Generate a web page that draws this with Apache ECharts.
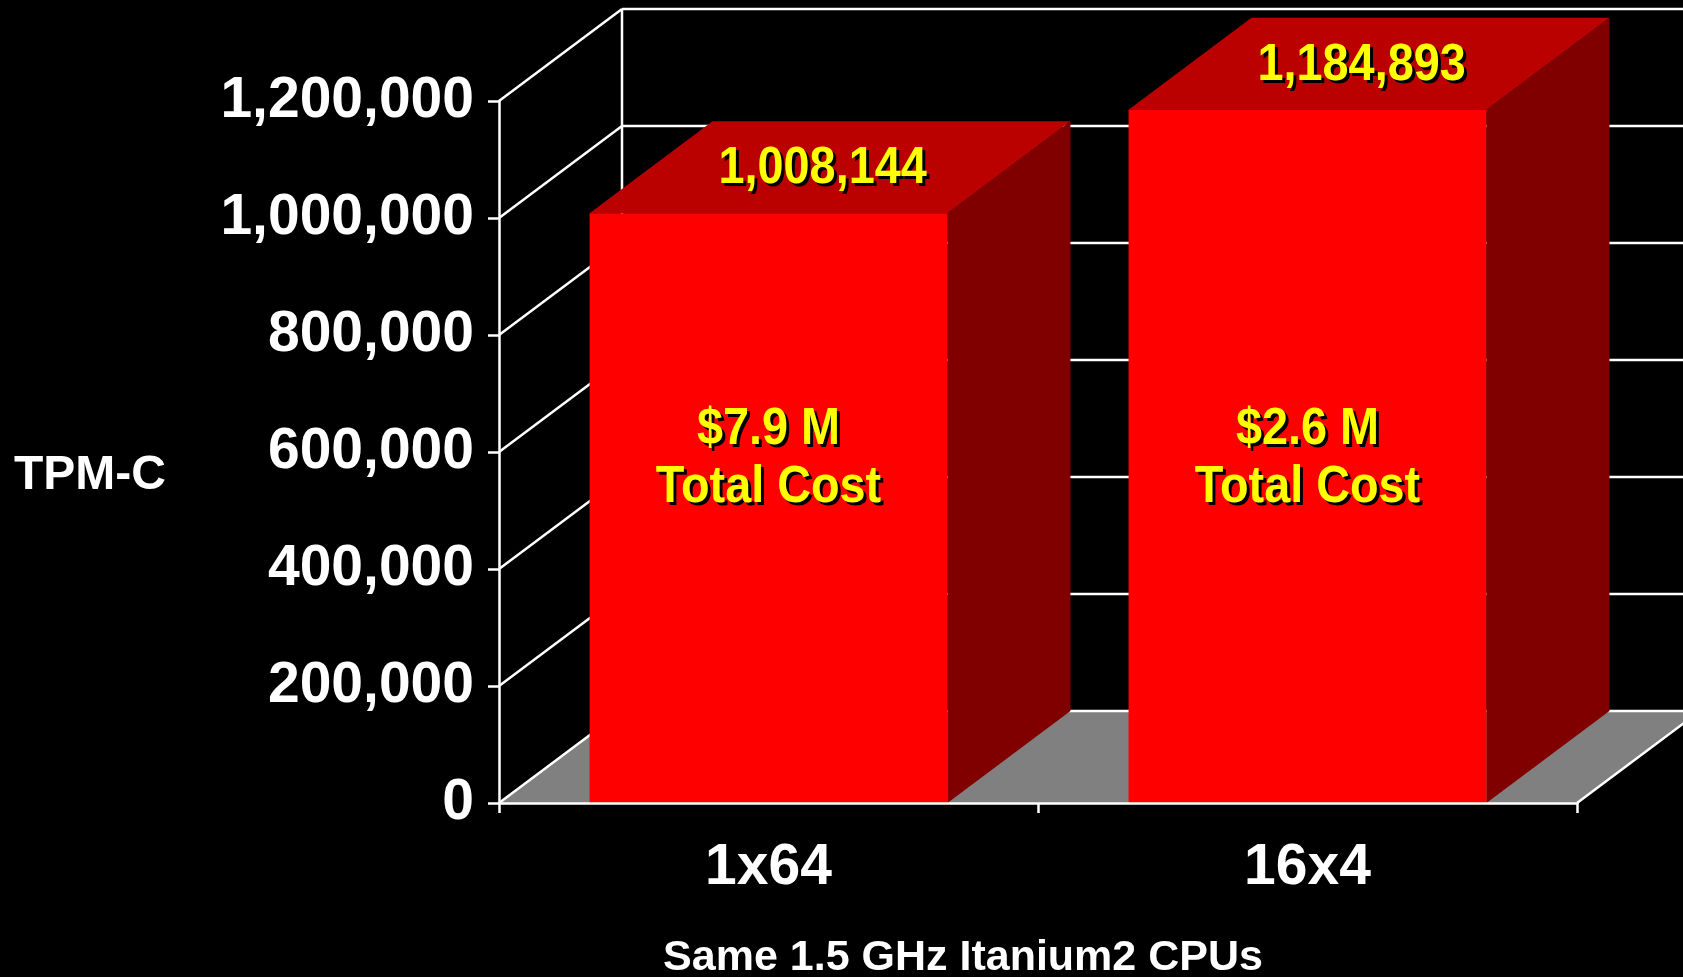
<!DOCTYPE html>
<html>
<head>
<meta charset="utf-8">
<script src="https://cdn.jsdelivr.net/npm/echarts@6/dist/echarts.min.js"></script>
<style>
html, body { margin: 0; padding: 0; background: #000; }
#main { width: 1683px; height: 977px; }
</style>
</head>
<body>
<div id="main"></div>
<script>
// data
var categories = ['1x64', '16x4'];
var tpmc = [1008144, 1184893];
var costLabels = ['$7.9 M\nTotal Cost', '$2.6 M\nTotal Cost'];
var yTicks = [0, 200000, 400000, 600000, 800000, 1000000, 1200000];

// fake 3d depth, in pixels
var DX = 123, DY = -92;
var FONT = '"Liberation Sans", Arial, sans-serif';
var COST_AT = 588000; // where the cost text sits on the value axis

var myChart = echarts.init(document.getElementById('main'));

// yellow text with a hard black drop shadow, a bit condensed like the slide
function shadowText(x, y, text, lineHeight) {
    var base = {
        font: 'bold 52px ' + FONT,
        lineHeight: lineHeight,
        align: 'center',
        verticalAlign: 'middle'
    };
    return [
        {
            type: 'text', x: x + 3, y: y + 3, scaleX: 0.9,
            style: echarts.util.extend({ text: text, fill: '#000' }, base)
        },
        {
            type: 'text', x: x, y: y, scaleX: 0.9,
            style: echarts.util.extend({ text: text, fill: '#ffff00' }, base)
        }
    ];
}

function renderWalls(params, api) {
    var cs = params.coordSys;
    var v = api.value(0);
    var y = api.coord([0, v])[1];
    var left = cs.x, right = cs.x + cs.width;
    var line = { stroke: '#fff', lineWidth: 2.5 };
    var children = [];
    if (v === 0) {
        children.push({
            type: 'polygon',
            shape: { points: [[left, y], [right, y], [right + DX, y + DY], [left + DX, y + DY]] },
            style: { fill: '#808080' }
        });
        children.push({
            type: 'line',
            shape: { x1: right, y1: y, x2: right + DX, y2: y + DY },
            style: line
        });
        children.push({
            type: 'line',
            shape: { x1: left + DX, y1: y + DY, x2: left + DX, y2: cs.y + DY },
            style: line
        });
    }
    children.push({
        type: 'line',
        shape: { x1: left, y1: y, x2: left + DX, y2: y + DY },
        style: line
    });
    children.push({
        type: 'line',
        shape: { x1: left + DX, y1: y + DY, x2: right + DX + 200, y2: y + DY },
        style: line
    });
    return { type: 'group', children: children };
}

function renderBar(params, api) {
    var i = api.value(0);
    var v = api.value(1);
    var top = api.coord([i, v]);
    var base = api.coord([i, 0]);
    var w = api.size([1, 0])[0] * 0.664;
    var x0 = top[0] - w / 2, x1 = top[0] + w / 2;
    var ty = top[1], by = base[1];
    var costY = api.coord([i, COST_AT])[1];
    var children = [
        {
            type: 'polygon',
            shape: { points: [[x1, ty], [x1 + DX, ty + DY], [x1 + DX, by + DY], [x1, by]] },
            style: { fill: '#800000' }
        },
        {
            type: 'polygon',
            shape: { points: [[x0, ty], [x1, ty], [x1 + DX, ty + DY], [x0 + DX, ty + DY]] },
            style: { fill: '#bb0000' }
        },
        {
            type: 'rect',
            shape: { x: x0, y: ty, width: w, height: by - ty },
            style: { fill: '#ff0000' }
        }
    ];
    children = children.concat(
        shadowText(top[0] + DX * 0.44, ty + DY * 0.48, echarts.format.addCommas(v), 52),
        shadowText(top[0], costY, costLabels[i], 58)
    );
    return { type: 'group', children: children };
}

var barData = [];
for (var i = 0; i < categories.length; i++) {
    barData.push([i, tpmc[i]]);
}

option = {
    backgroundColor: '#000',
    animation: false,
    grid: {
        left: 499,
        top: 101,
        width: 1078,
        height: 702
    },
    xAxis: {
        type: 'category',
        data: categories,
        z: 5,
        axisLine: { lineStyle: { color: '#fff', width: 2.5 } },
        axisTick: { show: true, length: 10, lineStyle: { color: '#fff', width: 2.5 } },
        axisLabel: {
            color: '#fff',
            fontFamily: FONT,
            fontWeight: 'bold',
            fontSize: 57,
            margin: 37
        }
    },
    yAxis: {
        type: 'value',
        min: 0,
        max: 1200000,
        interval: 200000,
        z: 5,
        splitLine: { show: false },
        axisLine: { show: true, lineStyle: { color: '#fff', width: 2.5 } },
        axisTick: { show: true, length: 11, lineStyle: { color: '#fff', width: 2.5 } },
        axisLabel: {
            color: '#fff',
            fontFamily: FONT,
            fontWeight: 'bold',
            fontSize: 57,
            margin: 25,
            padding: [13, 0, 0, 0],
            formatter: function (v) { return echarts.format.addCommas(v); }
        }
    },
    graphic: [
        {
            type: 'text',
            x: 90,
            y: 476,
            style: {
                text: 'TPM-C',
                fill: '#fff',
                font: 'bold 48px ' + FONT,
                align: 'center',
                verticalAlign: 'middle'
            }
        },
        {
            type: 'text',
            x: 963,
            y: 958,
            style: {
                text: 'Same 1.5 GHz Itanium2 CPUs',
                fill: '#fff',
                font: 'bold 43px ' + FONT,
                align: 'center',
                verticalAlign: 'middle'
            }
        }
    ],
    series: [
        {
            type: 'custom',
            name: 'walls',
            z: 1,
            silent: true,
            renderItem: renderWalls,
            data: yTicks.map(function (t) { return [t]; }),
            encode: { y: 0 }
        },
        {
            type: 'custom',
            name: 'TPM-C',
            z: 2,
            renderItem: renderBar,
            data: barData,
            encode: { x: 0, y: 1 }
        }
    ]
};

myChart.setOption(option);
</script>
</body>
</html>
